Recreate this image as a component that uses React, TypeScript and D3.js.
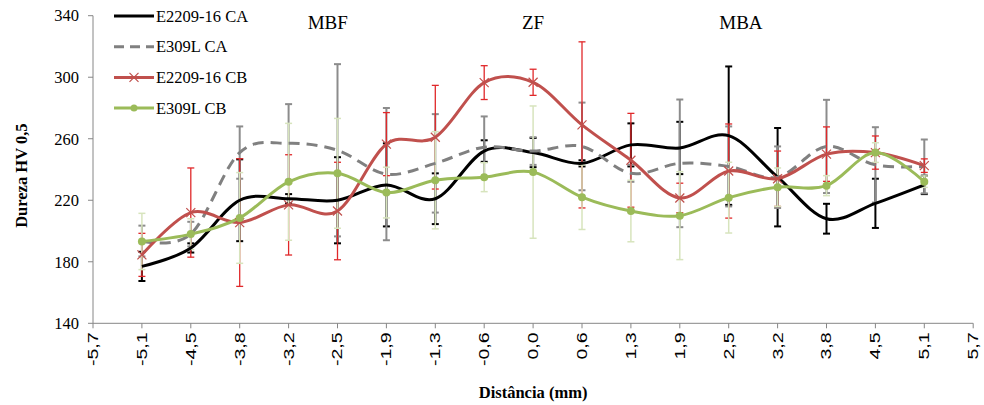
import React from "react";
import * as d3 from "d3";

const tickLabels = ["-5,7","-5,1","-4,5","-3,8","-3,2","-2,5","-1,9","-1,3","-0,6","0,0","0,6","1,3","1,9","2,5","3,2","3,8","4,5","5,1","5,7"];
// data at tick indices 1..17
const blackCA = [177, 189, 220, 221, 220, 230, 221, 252, 251, 244, 256, 254, 262, 235, 208, 218, 230];
const blackCAErr = [9.5, 3, 26.6, 3, 28, 27, 16.5, 7, 9.5, 2, 14, 17, 45, 32, 9.7, 16, 6];
const grayCA = [193.5, 198, 251, 257, 252.5, 237, 244, 254.5, 252, 255, 237.5, 244, 242, 235, 255, 243, 242];
const grayCAErr = [10, 8, 17, 25.5, 56, 43, 32, 20, 9, 28.5, 5.5, 41.5, 26, 20, 30.3, 24.5, 17.5];
const redCB = [184.5, 212, 205.5, 217, 213, 256.5, 261, 296.5, 296.7, 269, 246, 221.5, 239, 234, 250, 251, 242.5];
const redCBErr = [14, 29, 41.5, 32.6, 31.7, 20.5, 33.7, 11, 8.5, 54, 30.5, 9.6, 30.6, 18, 17.7, 10.8, 4.4];
const greenCB = [193.2, 198, 208.5, 232, 237.5, 225, 233, 235, 238.3, 222, 213, 210, 221.7, 228.5, 229.5, 251, 232.1];
const greenCBErr = [18.3, 10, 29.5, 38, 35.7, 16.5, 31.6, 9.4, 43, 21, 20, 28.6, 23, 12.5, 6.5, 6.4, 3.7];
const yTicks = [140, 180, 220, 260, 300, 340];
const seriesNames = ["E2209-16 CA", "E309L CA", "E2209-16 CB", "E309L CB"];
const zoneLabels = ["MBF", "ZF", "MBA"];
const zoneIdx = [4.8, 9, 13.25];

const W = 984, H = 405;
const x = d3.scaleLinear().domain([0, 18]).range([93, 973.2]);
const y = d3.scaleLinear().domain([140, 340]).range([323.3, 15.7]);

type S = { name: string; vals: number[]; err: number[]; color: string; errColor: string; errW: number; dash?: string; marker?: "x" | "dot" };
const series: S[] = [
  { name: seriesNames[0], vals: blackCA, err: blackCAErr, color: "#000000", errColor: "#000000", errW: 2 },
  { name: seriesNames[1], vals: grayCA, err: grayCAErr, color: "#808080", errColor: "#8c8c8c", errW: 2, dash: "11,7" },
  { name: seriesNames[2], vals: redCB, err: redCBErr, color: "#C0504D", errColor: "#E0282A", errW: 1.3, marker: "x" },
  { name: seriesNames[3], vals: greenCB, err: greenCBErr, color: "#9BBB59", errColor: "#D7E4BD", errW: 1.5, marker: "dot" },
];

const line = d3.line<number>().x((_, i) => x(i + 1)).y((v) => y(v)).curve(d3.curveCardinal.tension(0));

export default function App() {
  const serif = "'Liberation Serif', 'Times New Roman', serif";
  return (
    <svg width={W} height={H} style={{ position: "absolute", left: 0, top: 0, background: "#fff" }}>
      {/* axes */}
      <line x1={x(0)} x2={x(0)} y1={y(340)} y2={y(140)} stroke="#868686" strokeWidth={1} />
      <line x1={x(0)} x2={x(18)} y1={y(140)} y2={y(140)} stroke="#868686" strokeWidth={1} />
      {yTicks.map((t) => (
        <g key={t}>
          <line x1={x(0) - 5} x2={x(0)} y1={y(t)} y2={y(t)} stroke="#868686" />
          <text x={x(0) - 14} y={y(t)} dy="0.35em" textAnchor="end" fontFamily={serif} fontSize={16.5}>{t}</text>
        </g>
      ))}
      {tickLabels.map((l, i) => (
        <g key={l + i}>
          <line x1={x(i)} x2={x(i)} y1={y(140)} y2={y(140) + 5} stroke="#868686" />
          <text transform={`translate(${x(i)},${y(140) + 9}) rotate(-90) scale(1.4,1)`} dy="0.35em" textAnchor="end" fontFamily="'Liberation Sans', Arial, sans-serif" fontSize={14}>{l}</text>
        </g>
      ))}
      {/* error bars */}
      {series.map((s) => (
        <g key={s.name + "err"} stroke={s.errColor} strokeWidth={s.errW}>
          {s.vals.map((v, i) => {
            const cx = x(i + 1);
            const y1 = y(v + s.err[i]);
            const y2 = y(v - s.err[i]);
            return (
              <g key={i}>
                <line x1={cx} x2={cx} y1={y1} y2={y2} />
                <line x1={cx - 3.5} x2={cx + 3.5} y1={y1} y2={y1} />
                <line x1={cx - 3.5} x2={cx + 3.5} y1={y2} y2={y2} />
              </g>
            );
          })}
        </g>
      ))}
      {/* lines */}
      {series.map((s) => (
        <path key={s.name} d={line(s.vals) || ""} fill="none" stroke={s.color} strokeWidth={3} strokeDasharray={s.dash} />
      ))}
      {/* markers */}
      {series.map((s) =>
        s.marker === "x"
          ? s.vals.map((v, i) => (
              <path key={s.name + i} d={`M${x(i + 1) - 4.5},${y(v) - 4.5}L${x(i + 1) + 4.5},${y(v) + 4.5}M${x(i + 1) - 4.5},${y(v) + 4.5}L${x(i + 1) + 4.5},${y(v) - 4.5}`} stroke={s.color} strokeWidth={1.2} />
            ))
          : s.marker === "dot"
          ? s.vals.map((v, i) => <circle key={s.name + i} cx={x(i + 1)} cy={y(v)} r={4} fill={s.color} />)
          : null
      )}
      {/* zone labels */}
      {zoneLabels.map((z, i) => (
        <text key={z} x={x(zoneIdx[i])} y={29} textAnchor="middle" fontFamily={serif} fontSize={19}>{z}</text>
      ))}
      {/* legend */}
      {series.map((s, i) => {
        const ly = 16 + i * 30.7;
        return (
          <g key={s.name + "leg"}>
            <line x1={114} x2={154} y1={ly} y2={ly} stroke={s.color} strokeWidth={3} strokeDasharray={s.dash ? "10,6" : undefined} />
            {s.marker === "x" && <path d={`M${134 - 4.5},${ly - 4.5}L${134 + 4.5},${ly + 4.5}M${134 - 4.5},${ly + 4.5}L${134 + 4.5},${ly - 4.5}`} stroke={s.color} strokeWidth={1.2} />}
            {s.marker === "dot" && <circle cx={134} cy={ly} r={3.5} fill={s.color} />}
            <text x={156} y={ly} dy="0.35em" fontFamily={serif} fontSize={16.5}>{s.name}</text>
          </g>
        );
      })}
      {/* axis titles */}
      <text transform={`translate(21,${y(236)}) rotate(-90)`} textAnchor="middle" dy="0.35em" fontFamily={serif} fontSize={16.5} fontWeight="bold">Dureza HV 0,5</text>
      <text x={x(9)} y={392} textAnchor="middle" dy="0.35em" fontFamily={serif} fontSize={16.5} fontWeight="bold">Distância (mm)</text>
    </svg>
  );
}
